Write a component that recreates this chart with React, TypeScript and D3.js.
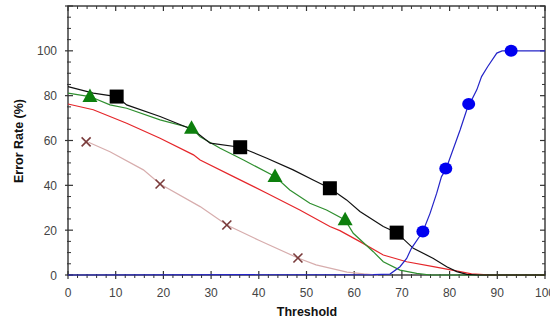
import { useEffect } from "react";
import * as d3 from "d3";

// readings (threshold, error %)
const blackX = [0, 5.3, 10.2, 12.3, 19.3, 26.3, 29.8, 36.1, 41.7, 47.2, 51.4, 54.9, 58.4, 61.2, 66.1, 68.9, 72.4, 76.6, 79.4, 81.5, 83.6, 86, 100];
const blackY = [84, 81.1, 79.6, 75.9, 70.7, 64.7, 58.8, 57, 52.1, 46.9, 42.4, 38.7, 33.5, 28.3, 21.6, 18.9, 11.9, 7.4, 3.7, 1.5, 0.3, 0, 0];

const greenX = [0, 4.6, 8.8, 12.3, 19.3, 25.9, 27.7, 31.9, 36.8, 43.4, 46.5, 50.7, 54.2, 58.1, 59.8, 64, 66.1, 69.6, 73.1, 76, 100];
const greenY = [81.1, 79.6, 75.9, 74.4, 69.2, 65.5, 61.7, 56.5, 51.3, 43.9, 37.9, 32, 29, 24.6, 18.6, 10.4, 5.9, 2.2, 0.7, 0, 0];

const redX = [0, 5.3, 12.3, 19.3, 26.3, 27.7, 34.7, 41.7, 48.6, 54.9, 57, 61.2, 66.1, 71, 76.6, 82.2, 84.6, 88, 90, 100];
const redY = [76.3, 73.7, 67.7, 61, 53.6, 51.3, 43.9, 36.5, 29, 21.6, 19.8, 14.9, 8.9, 5.9, 3.7, 1.5, 0.5, 0.1, 0, 0];

const brownX = [4.3, 8.8, 15.8, 19.3, 27.7, 33.3, 40, 48.2, 52, 58.5, 62, 65];
const brownY = [59.2, 55, 46.9, 40.6, 30.5, 22.3, 15.5, 7.6, 4.5, 1.3, 0.5, 0];

const blueX = [0, 64, 67.5, 69.6, 71, 72, 74.4, 75.9, 77.3, 78.3, 79.2, 82.2, 83.6, 85.7, 86.7, 88, 89.9, 91, 93, 100];
const blueY = [0, 0.2, 0.4, 3.7, 7.4, 11.9, 19.4, 27.5, 36.5, 43.9, 47, 64.7, 73.7, 82.6, 88.5, 93, 99, 100, 100, 100];

// marker positions
const squareX = [10.2, 36.1, 54.9, 68.9];
const squareY = [79.6, 57, 38.7, 18.9];
const triangleX = [4.6, 25.9, 43.4, 58.1];
const triangleY = [79.6, 65.5, 43.9, 24.6];
const crossX = [3.8, 19.3, 33.3, 48.2];
const crossY = [59.4, 40.6, 22.3, 7.6];
const circleX = [74.4, 79.2, 84, 92.9];
const circleY = [19.4, 47.5, 76.3, 100];

const xTicks = [0, 10, 20, 30, 40, 50, 60, 70, 80, 90, 100];
const yTicks = [0, 20, 40, 60, 80, 100];

const zip = (xs: number[], ys: number[]) => xs.map((x, i) => [x, ys[i]] as [number, number]);

export default function App() {
    useEffect(() => {
        document.body.style.margin = "0";
    }, []);

    const W = 550, H = 321;
    const x = d3.scaleLinear().domain([0, 100]).range([68, 545]);
    const y = d3.scaleLinear().domain([0, 120]).range([275, 6]);
    const line = d3.line<[number, number]>().x(d => x(d[0])).y(d => y(d[1]));

    const axisColor = "#333";
    const font = "Arial, 'Liberation Sans', sans-serif";
    const minorX = d3.range(0, 101, 2).filter(v => v % 10 !== 0);
    const minorY = d3.range(0, 121, 5).filter(v => v % 20 !== 0);
    const majorY = d3.range(0, 121, 20);

    const series = [
        { d: zip(brownX, brownY), c: "#d7adad" },
        { d: zip(redX, redY), c: "#e5262a" },
        { d: zip(greenX, greenY), c: "#2f8f2f" },
        { d: zip(blackX, blackY), c: "#111" },
        { d: zip(blueX, blueY), c: "#2424c8" },
    ];

    return (
        <svg width={W} height={H} style={{ display: "block", background: "#fff" }}>
            {/* frame */}
            <rect x={x(0)} y={y(120)} width={x(100) - x(0)} height={y(0) - y(120)} fill="none" stroke={axisColor} strokeWidth={1.4} />

            {/* bottom / top ticks */}
            {xTicks.map(v => (
                <g key={"xt" + v}>
                    <line x1={x(v)} x2={x(v)} y1={y(0) - 4} y2={y(0) + 4} stroke={axisColor} strokeWidth={1.2} />
                    <line x1={x(v)} x2={x(v)} y1={y(120)} y2={y(120) + 5} stroke={axisColor} strokeWidth={1.2} />
                    <text x={x(v)} y={297} textAnchor="middle" fontSize={12} fill="#444" fontFamily={font}>{v}</text>
                </g>
            ))}
            {minorX.map(v => (
                <g key={"xm" + v}>
                    <line x1={x(v)} x2={x(v)} y1={y(0) - 1} y2={y(0) + 3} stroke={axisColor} strokeWidth={1} />
                    <line x1={x(v)} x2={x(v)} y1={y(120)} y2={y(120) + 3} stroke={axisColor} strokeWidth={1} />
                </g>
            ))}

            {/* left / right ticks */}
            {majorY.map(v => (
                <g key={"yt" + v}>
                    <line x1={x(0) - 3} x2={x(0) + 5} y1={y(v)} y2={y(v)} stroke={axisColor} strokeWidth={1.2} />
                    <line x1={x(100) - 5} x2={x(100)} y1={y(v)} y2={y(v)} stroke={axisColor} strokeWidth={1.2} />
                </g>
            ))}
            {minorY.map(v => (
                <g key={"ym" + v}>
                    <line x1={x(0) - 1} x2={x(0) + 3} y1={y(v)} y2={y(v)} stroke={axisColor} strokeWidth={1} />
                    <line x1={x(100) - 3} x2={x(100)} y1={y(v)} y2={y(v)} stroke={axisColor} strokeWidth={1} />
                </g>
            ))}
            {yTicks.map(v => (
                <text key={"yl" + v} x={57} y={y(v) + 4.5} textAnchor="end" fontSize={12} fill="#444" fontFamily={font}>{v}</text>
            ))}

            {/* curves */}
            {series.map((s, i) => (
                <path key={"s" + i} d={line(s.d) ?? ""} fill="none" stroke={s.c} strokeWidth={1.2} />
            ))}

            {/* markers */}
            {crossX.map((v, i) => (
                <g key={"cx" + i} transform={`translate(${x(v)},${y(crossY[i])})`} stroke="#7a3b3b" strokeWidth={1.6}>
                    <line x1={-4.5} y1={-4.5} x2={4.5} y2={4.5} />
                    <line x1={-4.5} y1={4.5} x2={4.5} y2={-4.5} />
                </g>
            ))}
            {triangleX.map((v, i) => (
                <path key={"tr" + i} transform={`translate(${x(v)},${y(triangleY[i])})`} d="M0,-8L7.5,5.5L-7.5,5.5Z" fill="#0d7f0d" />
            ))}
            {squareX.map((v, i) => (
                <rect key={"sq" + i} x={x(v) - 7} y={y(squareY[i]) - 7} width={14} height={14} fill="#000" />
            ))}
            {circleX.map((v, i) => (
                <ellipse key={"ci" + i} cx={x(v)} cy={y(circleY[i])} rx={6.5} ry={6} fill="#0000f0" />
            ))}

            {/* titles */}
            <text transform="translate(23,141) rotate(-90)" textAnchor="middle" fontSize={12.5} fontWeight="bold" fill="#111" fontFamily={font}>Error Rate (%)</text>
            <text x={307} y={316} textAnchor="middle" fontSize={12.5} fontWeight="bold" fill="#111" fontFamily={font}>Threshold</text>
        </svg>
    );
}
